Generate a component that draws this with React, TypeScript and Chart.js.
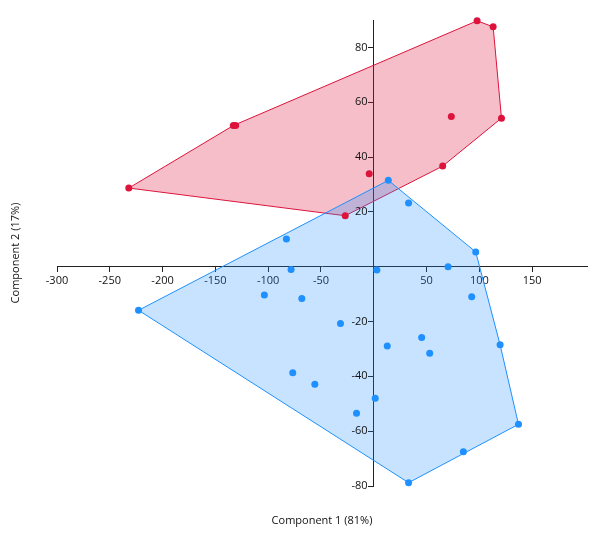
import React, { useEffect, useRef } from 'react';
import { Chart, registerables } from 'chart.js';

Chart.register(...registerables);

// Group 1 (red)
const redX = [-232, -133, -130.8, 97.9, 113.1, 121, 73.5, 65.3, -4.3, -27];
const redY = [28.7, 51.5, 51.5, 89.7, 87.5, 54.2, 54.8, 36.7, 33.9, 18.6];

// Group 2 (blue)
const blueX = [13.8, 33, 96.6, 70.4, 3, -82.7, -78.3, -222.8, -103.6, -68.1, -76.7, -31.5, -55.8, -16.3, 1.4, 12.8, 45.4, 53, 92.8, 119.7, 137.1, 84.9, 33];
const blueY = [31.5, 23.2, 5.4, 0.0, -1.2, 10.1, -1.0, -15.9, -10.3, -11.6, -38.7, -20.7, -42.9, -53.5, -48, -28.9, -25.8, -31.6, -11, -28.5, -57.5, -67.5, -78.8];

const xTicks = [-300, -250, -200, -150, -100, -50, 50, 100, 150];
const yTicks = [-80, -60, -40, -20, 20, 40, 60, 80];
const xTitle = 'Component 1 (81%)';
const yTitle = 'Component 2 (17%)';

const RED = '#DC143C';
const RED_FILL = 'rgba(220,20,60,0.28)';
const BLUE = '#1E90FF';
const BLUE_FILL = 'rgba(30,144,255,0.25)';
const AXIS = '#222';
const TEXT = '#111';
const FONT = '"Open Sans", "Noto Sans", sans-serif';

type P = { x: number; y: number };

function toPoints(xs: number[], ys: number[]): P[] {
  return xs.map((x, i) => ({ x, y: ys[i] }));
}

// convex hull (monotone chain), returned closed
function hull(pts: P[]): P[] {
  const s = [...pts].sort((a, b) => (a.x === b.x ? a.y - b.y : a.x - b.x));
  const cross = (o: P, a: P, b: P) => (a.x - o.x) * (b.y - o.y) - (a.y - o.y) * (b.x - o.x);
  const lower: P[] = [];
  for (const p of s) {
    while (lower.length >= 2 && cross(lower[lower.length - 2], lower[lower.length - 1], p) <= 0) lower.pop();
    lower.push(p);
  }
  const upper: P[] = [];
  for (let i = s.length - 1; i >= 0; i--) {
    const p = s[i];
    while (upper.length >= 2 && cross(upper[upper.length - 2], upper[upper.length - 1], p) <= 0) upper.pop();
    upper.push(p);
  }
  upper.pop();
  lower.pop();
  const h = lower.concat(upper);
  return [...h, h[0]];
}

const axisText = {
  id: 'axisText',
  afterDraw(chart: any) {
    const { ctx, chartArea, scales } = chart;
    ctx.save();
    ctx.font = `11px ${FONT}`;
    ctx.fillStyle = TEXT;
    // y tick labels, left of the y axis (which crosses at x = 0)
    ctx.textAlign = 'right';
    ctx.textBaseline = 'middle';
    const axisX = Math.floor(scales.x.getPixelForValue(0)) + 0.5;
    for (const v of yTicks) {
      ctx.fillText(String(v), axisX - 6, scales.y.getPixelForValue(v));
    }
    // axis titles
    ctx.textAlign = 'center';
    ctx.fillText(xTitle, (chartArea.left + chartArea.right) / 2, chartArea.bottom + 35);
    ctx.translate(16, (chartArea.top + chartArea.bottom) / 2);
    ctx.rotate(-Math.PI / 2);
    ctx.fillText(yTitle, 0, 0);
    ctx.restore();
  },
};

export default function App() {
  const ref = useRef<HTMLCanvasElement>(null);

  useEffect(() => {
    if (!ref.current) return;
    const red = toPoints(redX, redY);
    const blue = toPoints(blueX, blueY);
    const tickFont = { family: FONT, size: 11 };
    const chart = new Chart(ref.current, {
      type: 'scatter',
      data: {
        datasets: [
          {
            label: 'Group 1',
            data: red,
            backgroundColor: RED,
            borderColor: RED,
            pointRadius: 3.5,
            pointBorderWidth: 0,
            clip: false,
          } as any,
          {
            label: 'Group 2',
            data: blue,
            backgroundColor: BLUE,
            borderColor: BLUE,
            pointRadius: 3.5,
            pointBorderWidth: 0,
            clip: false,
          } as any,
          {
            label: 'Hull 2',
            data: hull(blue),
            showLine: true,
            fill: 'shape',
            backgroundColor: BLUE_FILL,
            borderColor: BLUE,
            borderWidth: 1,
            pointRadius: 0,
            tension: 0,
            clip: false,
          } as any,
          {
            label: 'Hull 1',
            data: hull(red),
            showLine: true,
            fill: 'shape',
            backgroundColor: RED_FILL,
            borderColor: RED,
            borderWidth: 1,
            pointRadius: 0,
            tension: 0,
            clip: false,
          } as any,
        ],
      },
      options: {
        animation: false,
        responsive: false,
        maintainAspectRatio: false,
        events: [],
        layout: { padding: { left: 57, right: 15, top: 20, bottom: 53 } },
        plugins: {
          legend: { display: false },
          tooltip: { enabled: false },
          title: { display: false },
        },
        scales: {
          x: {
            type: 'linear',
            min: -300,
            max: 202,
            position: { y: 0 } as any,
            afterBuildTicks: (s: any) => {
              s.ticks = xTicks.map((v) => ({ value: v }));
            },
            grid: { display: true, drawOnChartArea: false, drawTicks: true, tickLength: 5, color: AXIS, lineWidth: 1 },
            border: { display: true, color: AXIS, width: 1 },
            ticks: { font: tickFont, color: TEXT, padding: 3, maxRotation: 0, autoSkip: false },
          },
          y: {
            type: 'linear',
            min: -80,
            max: 90,
            position: { x: 0 } as any,
            afterBuildTicks: (s: any) => {
              s.ticks = yTicks.map((v) => ({ value: v }));
            },
            grid: { display: true, drawOnChartArea: false, drawTicks: true, tickLength: 5, color: AXIS, lineWidth: 1 },
            border: { display: true, color: AXIS, width: 1 },
            ticks: { display: false, font: tickFont, autoSkip: false },
          },
        },
      } as any,
      plugins: [axisText],
    });
    return () => chart.destroy();
  }, []);

  return (
    <div style={{ position: 'fixed', left: 0, top: 0, width: 602, height: 539, background: '#fff' }}>
      <canvas ref={ref} width={602} height={539} style={{ display: 'block', width: 602, height: 539 }} />
    </div>
  );
}
